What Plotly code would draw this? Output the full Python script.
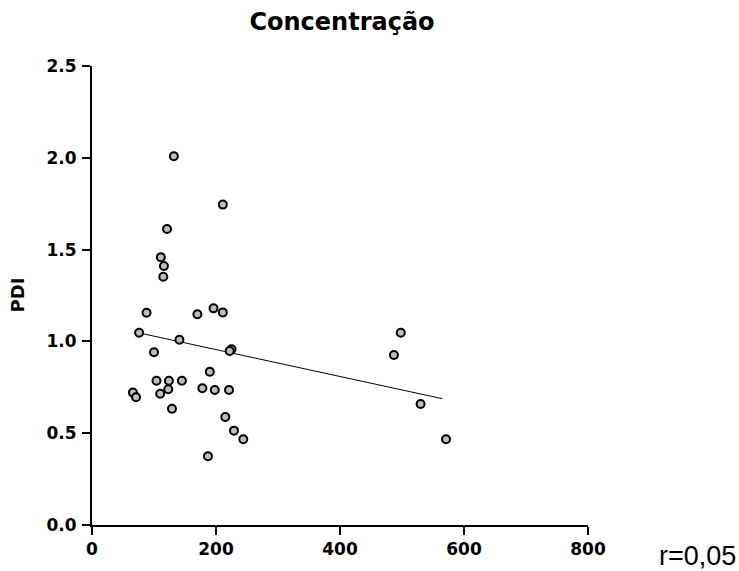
import plotly.graph_objects as go

# Data
conc = [132, 211, 121, 111, 116, 115, 88, 170, 196, 211, 76, 141, 225, 222, 100,
        190, 104, 124, 145, 123, 110, 178, 198, 221, 66, 71, 129, 215, 229, 244,
        187, 498, 487, 530, 571]
pdi = [2.008, 1.745, 1.612, 1.458, 1.411, 1.352, 1.156, 1.148, 1.180, 1.158,
       1.047, 1.009, 0.957, 0.948, 0.941, 0.835, 0.786, 0.786, 0.786, 0.739,
       0.715, 0.745, 0.735, 0.735, 0.721, 0.696, 0.633, 0.588, 0.514, 0.467,
       0.374, 1.047, 0.926, 0.659, 0.467]
fit_x = [68, 565]
fit_y = [1.052, 0.688]
x_ticks = [0, 200, 400, 600, 800]
y_ticks = [0.0, 0.5, 1.0, 1.5, 2.0, 2.5]

BOLD = "DejaVu Sans, Liberation Sans, Arial, sans-serif"
REG = "Liberation Sans, Arial, sans-serif"

W, H = 739, 571
L, R, T, B = 92, 588, 66, 525

fig = go.Figure()
fig.add_trace(go.Scatter(x=fit_x, y=fit_y, mode="lines",
                         line=dict(color="black", width=1), hoverinfo="skip",
                         showlegend=False))
fig.add_trace(go.Scatter(x=conc, y=pdi, mode="markers",
                         marker=dict(symbol="circle", size=8, color="#bdbdbd",
                                     line=dict(color="black", width=2)),
                         showlegend=False))

tickfont = dict(family=BOLD, size=17, color="black", weight="bold")

fig.update_layout(
    width=W, height=H,
    margin=dict(l=L, r=W - R, t=T, b=H - B),
    paper_bgcolor="white", plot_bgcolor="white",
    title=dict(text="Concentração", x=342 / W, xanchor="center",
               y=1 - 22 / H, yanchor="middle",
               font=dict(family=BOLD, size=24, color="black", weight="bold")),
    xaxis=dict(range=[0, 800], tickvals=x_ticks, ticktext=[str(v) for v in x_ticks],
               showline=True, linecolor="black", linewidth=2, mirror=False,
               ticks="outside", ticklen=8, tickwidth=2, tickcolor="black",
               showgrid=False, zeroline=False, tickfont=tickfont),
    yaxis=dict(range=[0, 2.5], tickvals=y_ticks, ticktext=[f"{v:.1f}" for v in y_ticks],
               showline=True, linecolor="black", linewidth=2, mirror=False,
               ticks="outside", ticklen=8, tickwidth=2, tickcolor="black",
               ticklabelstandoff=2,
               showgrid=False, zeroline=False, tickfont=tickfont),
    annotations=[
        dict(text="r=0,05", xref="paper", yref="paper",
             x=(657 - L) / (R - L), y=-(556 - B) / (B - T),
             xanchor="left", yanchor="middle", showarrow=False,
             font=dict(family=REG, size=27, color="black")),
        dict(text="PDI", xref="paper", yref="paper", textangle=-90,
             x=-(L - 16.5) / (R - L), y=(B - 295) / (B - T),
             xanchor="center", yanchor="middle", showarrow=False,
             font=dict(family=BOLD, size=18, color="black", weight="bold")),
    ],
)

fig.write_html("out.html")
